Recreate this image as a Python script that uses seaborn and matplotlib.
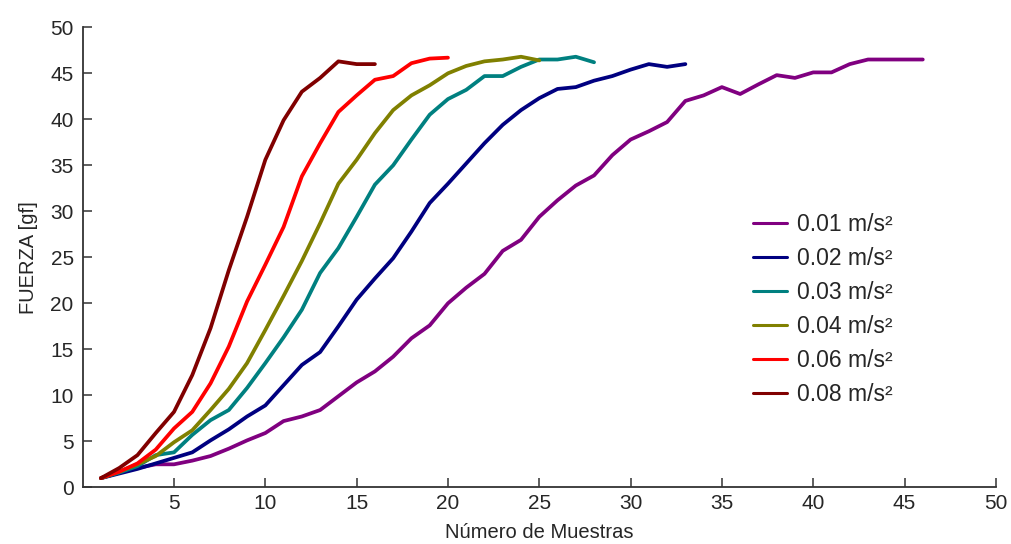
import numpy as np
import pandas as pd
import matplotlib
matplotlib.use("Agg")
import matplotlib.pyplot as plt
import seaborn as sns

# ---- data ----
f_001 = [1.0, 1.6, 2.1, 2.5, 2.5, 2.9, 3.4, 4.2, 5.1, 5.9, 7.2, 7.7, 8.4, 9.9, 11.4, 12.6,
         14.2, 16.2, 17.6, 20.0, 21.7, 23.2, 25.7, 26.9, 29.4, 31.2, 32.8, 33.9, 36.1, 37.8,
         38.7, 39.7, 42.0, 42.6, 43.5, 42.75, 43.8, 44.8, 44.5, 45.1, 45.1, 46.0, 46.5, 46.5,
         46.5, 46.5]
f_002 = [1.0, 1.5, 2.0, 2.6, 3.2, 3.8, 5.1, 6.3, 7.7, 8.9, 11.1, 13.3, 14.7, 17.5, 20.4, 22.7,
         24.9, 27.8, 30.9, 33.0, 35.2, 37.4, 39.4, 41.0, 42.3, 43.3, 43.5, 44.2, 44.7, 45.4,
         46.0, 45.7, 46.0]
f_003 = [1.0, 1.6, 2.3, 3.5, 3.8, 5.7, 7.3, 8.4, 10.8, 13.5, 16.3, 19.3, 23.3, 26.0, 29.4, 32.9,
         35.0, 37.8, 40.5, 42.2, 43.2, 44.7, 44.7, 45.7, 46.5, 46.5, 46.8, 46.2]
f_004 = [1.0, 1.7, 2.5, 3.4, 4.9, 6.2, 8.4, 10.7, 13.5, 17.1, 20.8, 24.6, 28.7, 33.0, 35.6, 38.5,
         41.0, 42.6, 43.7, 45.0, 45.8, 46.3, 46.5, 46.8, 46.4]
f_006 = [1.0, 1.7, 2.6, 4.1, 6.4, 8.2, 11.3, 15.3, 20.2, 24.2, 28.3, 33.8, 37.4, 40.8, 42.6, 44.3,
         44.7, 46.1, 46.6, 46.7]
f_008 = [1.0, 2.1, 3.5, 5.9, 8.2, 12.2, 17.3, 23.6, 29.4, 35.6, 39.9, 43.0, 44.5, 46.3, 46.0, 46.0]

series_labels = ["0.01 m/s²", "0.02 m/s²", "0.03 m/s²", "0.04 m/s²", "0.06 m/s²", "0.08 m/s²"]
series_values = [f_001, f_002, f_003, f_004, f_006, f_008]
colors = ["#800080", "#000080", "#008080", "#808000", "#ff0000", "#800000"]

x_ticks = [5, 10, 15, 20, 25, 30, 35, 40, 45, 50]
y_ticks = [0, 5, 10, 15, 20, 25, 30, 35, 40, 45, 50]

rows = []
for lab, vals in zip(series_labels, series_values):
    for i, v in enumerate(vals):
        rows.append({"muestra": i + 1, "fuerza": v, "serie": lab})
df = pd.DataFrame(rows)

sns.set_style("ticks")
plt.rcParams["font.family"] = ["Liberation Sans", "DejaVu Sans"]
txt = "#262626"

fig = plt.figure(figsize=(10.11, 5.44), dpi=100)
ax = fig.add_axes([0.0818, 0.1042, 0.9032, 0.8456])

sns.lineplot(data=df, x="muestra", y="fuerza", hue="serie", hue_order=series_labels,
             palette=colors, linewidth=2.7, ax=ax, estimator=None, sort=False)

ax.set_xlim(0, 50)
ax.set_ylim(0, 50)
ax.set_xticks(x_ticks)
ax.set_yticks(y_ticks)
ax.tick_params(direction="in", length=6.5, width=1.1, colors="#333333",
               labelsize=15, labelcolor=txt)
ax.tick_params(axis="y", pad=6.5)
ax.tick_params(axis="x", pad=5)
for s in ["top", "right"]:
    ax.spines[s].set_visible(False)
for s in ["left", "bottom"]:
    ax.spines[s].set_color("#333333")
    ax.spines[s].set_linewidth(1.3)
ax.set_xlabel("Número de Muestras", fontsize=14.5, color=txt, labelpad=7)
ax.set_ylabel("FUERZA [gf]", fontsize=14.5, color=txt, labelpad=9)

handles, labels = ax.get_legend_handles_labels()
leg = ax.legend(handles, labels, loc="upper left", bbox_to_anchor=(753 / 1011, 1 - 213 / 544),
                bbox_transform=fig.transFigure, frameon=False, fontsize=16.5,
                handlelength=1.48, handletextpad=0.44, labelspacing=0.48,
                borderpad=0, borderaxespad=0)
for t in leg.get_texts():
    t.set_color(txt)
for l in leg.get_lines():
    l.set_linewidth(2.2)

fig.savefig("out.png", dpi=100)
